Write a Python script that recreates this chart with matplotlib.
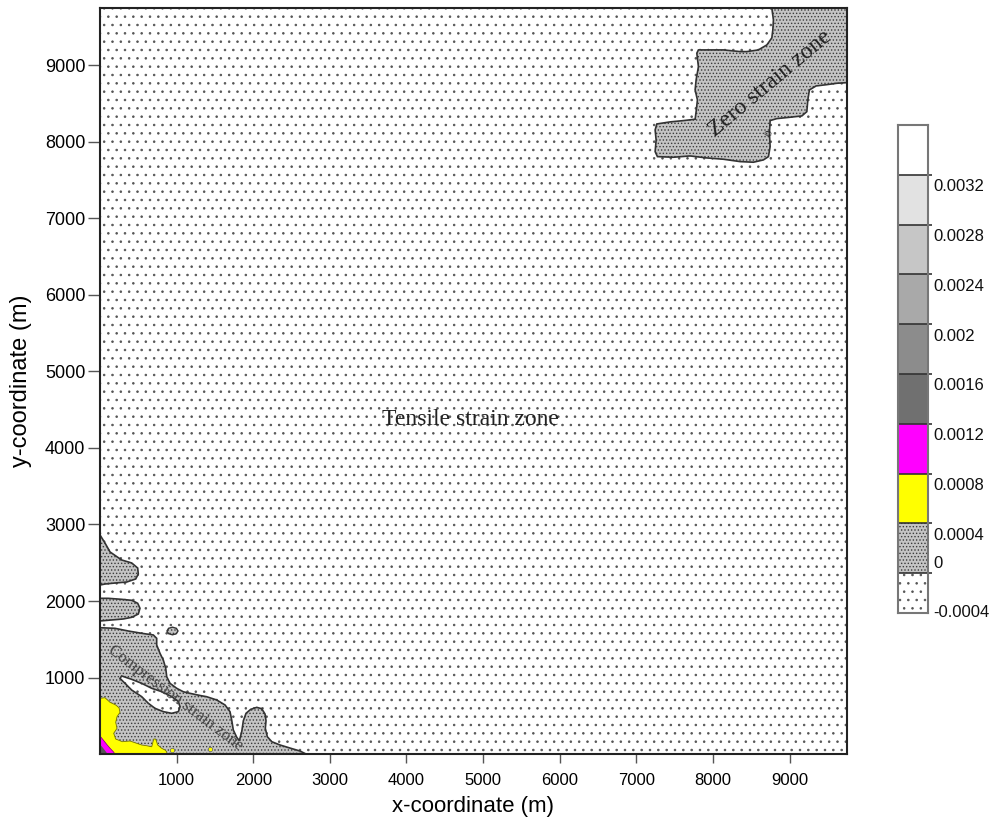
import numpy as np
import matplotlib
matplotlib.use('Agg')
import matplotlib.pyplot as plt

plt.rcParams['hatch.linewidth'] = 0.6

# map extent (m)
x_max = 9750
y_max = 9750
x_ticks = [1000, 2000, 3000, 4000, 5000, 6000, 7000, 8000, 9000]
y_ticks = [1000, 2000, 3000, 4000, 5000, 6000, 7000, 8000, 9000]

# strain contour levels and their fills
levels = [-0.0004, 0, 0.0004, 0.0008, 0.0012, 0.0016, 0.002, 0.0024, 0.0028, 0.0032, 0.0036]
band_colors = ['white', '#c4c4c4', '#ffff00', '#ff00ff', '#707070',
               '#8c8c8c', '#a9a9a9', '#c6c6c6', '#e2e2e2', 'white']
band_hatch = ['..', '.....', '', '', '', '', '', '', '', '']
band_labels = ['-0.0004', '0', '0.0004', '0.0008', '0.0012', '0.0016',
               '0.002', '0.0024', '0.0028', '0.0032']

# zone outlines (m)
zero_x = [8769, 9750, 9750, 9618, 9487, 9347, 9260, 9239, 9226, 9161, 9008, 8834, 8747,
          8738, 8747, 8725, 8659, 8529, 8355, 8137, 7920, 7702, 7484, 7276, 7246, 7259,
          7246, 7268, 7441, 7615, 7768, 7781, 7798, 7768, 7781, 7811, 7790, 7811, 8137,
          8355, 8443, 8594, 8704, 8769, 8782, 8790]
zero_y = [9750, 9750, 8775, 8767, 8749, 8732, 8680, 8549, 8396, 8340, 8323, 8305, 8279,
          8114, 7939, 7808, 7765, 7735, 7743, 7774, 7791, 7817, 7800, 7808, 7873, 8026,
          8157, 8235, 8262, 8279, 8297, 8396, 8549, 8680, 8811, 8984, 9160, 9203, 9203,
          9181, 9181, 9203, 9268, 9360, 9464, 9595]

comp_x = [0, 196, 369, 544, 696, 740, 740, 783, 826, 858, 871, 914, 1001, 1087, 1175,
          1306, 1393, 1524, 1632, 1697, 1719, 1740, 1785, 1819, 1850, 1871, 1906, 1967,
          2046, 2111, 2154, 2167, 2158, 2184, 2242, 2350, 2480, 2611, 2689, 0]
comp_y = [1651, 1643, 1608, 1578, 1556, 1512, 1425, 1316, 1229, 1120, 1010, 924, 859,
          814, 793, 765, 749, 706, 641, 553, 444, 314, 218, 174, 292, 435, 532, 584, 610,
          592, 523, 435, 336, 226, 161, 118, 78, 39, 0, 0]

blob1_x = [0, 65, 131, 283, 414, 492, 500, 466, 349, 196, 65, 0]
blob1_y = [2863, 2758, 2641, 2536, 2497, 2431, 2353, 2288, 2248, 2235, 2222, 2209]

blob2_x = [0, 108, 283, 414, 492, 522, 500, 414, 304, 153, 0]
blob2_y = [2035, 2035, 2022, 2009, 1970, 1905, 1830, 1787, 1765, 1752, 1739]

islet_x = [874, 895, 946, 997, 1018, 997, 946, 895]
islet_y = [1608, 1643, 1658, 1643, 1608, 1573, 1558, 1573]

lens_x = [283, 414, 544, 675, 805, 936, 1023, 1044, 1023, 936, 827, 718, 631, 544,
          414, 326, 261]
lens_y = [1020, 976, 924, 859, 815, 750, 685, 619, 554, 532, 554, 597, 663, 750,
          836, 924, 989]

yellow_x = [0, 65, 131, 205, 248, 261, 222, 205, 222, 179, 205, 291, 392, 479, 544,
            610, 675, 701, 727, 753, 805, 849, 871, 871, 0]
yellow_y = [728, 736, 676, 641, 605, 545, 488, 414, 336, 271, 196, 161, 170, 140,
            118, 108, 95, 196, 196, 118, 75, 52, 30, 0, 0]
yellow_dot_x = [936, 1436]
yellow_dot_y = [52, 61]

magenta_x = [0, 43, 87, 131, 174, 196, 0]
magenta_y = [235, 183, 127, 75, 30, 0, 0]

dark_x = [0, 43, 87, 90, 0]
dark_y = [127, 75, 17, 0, 0]

fig = plt.figure(figsize=(10.04, 8.22), dpi=100)
ax = fig.add_axes([0.0996, 0.0827, 0.744, 0.9075])


def zone(x, y, face, hatch='', hcol='#333333', edge='#333333', lw=1.2):
    ax.fill(x, y, facecolor=face, hatch=hatch, edgecolor=hcol, linewidth=0)
    if lw > 0:
        ax.fill(x, y, facecolor='none', edgecolor=edge, linewidth=lw)


# tensile background
ax.fill_between([0, x_max], 0, y_max, facecolor='white', hatch='..',
                edgecolor='#555555', linewidth=0)

zone(zero_x, zero_y, band_colors[1], band_hatch[1], '#3a3a3a')
zone(blob1_x, blob1_y, band_colors[1], band_hatch[1], '#3a3a3a')
zone(blob2_x, blob2_y, band_colors[1], band_hatch[1], '#3a3a3a')
zone(comp_x, comp_y, band_colors[1], band_hatch[1], '#3a3a3a')
zone(islet_x, islet_y, band_colors[1], band_hatch[1], '#3a3a3a', lw=1.0)
zone(lens_x, lens_y, 'white', '..', '#555555')
zone(yellow_x, yellow_y, band_colors[2], '', edge='#777700', lw=0.6)
ax.scatter(yellow_dot_x, yellow_dot_y, s=10, color=band_colors[2],
           edgecolor='#666666', linewidth=0.5, zorder=3)
zone(magenta_x, magenta_y, band_colors[3], '', edge='#770077', lw=0.5)
zone(dark_x, dark_y, '#555555', '', lw=0)

ax.text(4830, 4366, 'Tensile strain zone', family='Liberation Serif', fontsize=17,
        color='#222222', ha='center', va='center')
ax.text(8750, 8760, 'Zero strain zone', family='Liberation Serif', fontsize=17,
        color='#222222', ha='center', va='center', rotation=40, rotation_mode='anchor')
ax.text(979, 732, 'Compression strain zone', family='Liberation Serif', fontsize=12,
        color='#444444', ha='center', va='center', rotation=-37, rotation_mode='anchor')
ax.text(8740, 8120, '0', family='Liberation Serif', fontsize=8, color='#222222',
        ha='center', va='center', rotation=80)

ax.set_xlim(0, x_max)
ax.set_ylim(0, y_max)
ax.set_xticks(x_ticks)
ax.set_yticks(y_ticks)
ax.tick_params(axis='x', direction='out', length=6.5, width=1, color='#555555',
               labelsize=12, pad=7)
ax.tick_params(axis='y', direction='out', length=8.5, width=1, color='#555555',
               labelsize=13, pad=2)
for lab in ax.get_xticklabels() + ax.get_yticklabels():
    lab.set_family('Liberation Sans')
for sp in ax.spines.values():
    sp.set_linewidth(1.5)
    sp.set_color('#222222')
ax.set_xlabel('x-coordinate (m)', family='Liberation Sans', fontsize=16, labelpad=6)
ax.set_ylabel('y-coordinate (m)', family='Liberation Sans', fontsize=17, labelpad=9)

# colour scale
cax = fig.add_axes([0.8944, 0.2543, 0.0299, 0.5937])
for i in range(len(levels) - 1):
    cax.bar(0.5, levels[i + 1] - levels[i], bottom=levels[i], width=1,
            color=band_colors[i], hatch=band_hatch[i],
            edgecolor='#555555' if i == 0 else '#3a3a3a', linewidth=0)
cax.hlines(levels[1:-1], 0, 1, color='#333333', linewidth=1.2)
cb_bottom = levels[0] + 0.2 * (levels[1] - levels[0])
cax.set_xlim(0, 1)
cax.set_ylim(cb_bottom, levels[-1])
cax.set_xticks([])
cax.yaxis.tick_right()
cax.set_yticks(levels[1:-1])
cax.set_yticklabels([])
cax.tick_params(axis='y', length=3, width=1.2, color='#333333')
for sp in cax.spines.values():
    sp.set_linewidth(1.5)
    sp.set_color('#777777')

label_pos = [cb_bottom] + levels[1:-1]
label_dy = [0, 10] + [-12] * 8
for lab, yv, dy in zip(band_labels, label_pos, label_dy):
    cax.annotate(lab, xy=(1, yv), xycoords=cax.get_yaxis_transform(),
                 xytext=(5, dy), textcoords='offset pixels', ha='left', va='center',
                 family='Liberation Sans', fontsize=12, color='#111111')

fig.savefig('out.png', dpi=100)
